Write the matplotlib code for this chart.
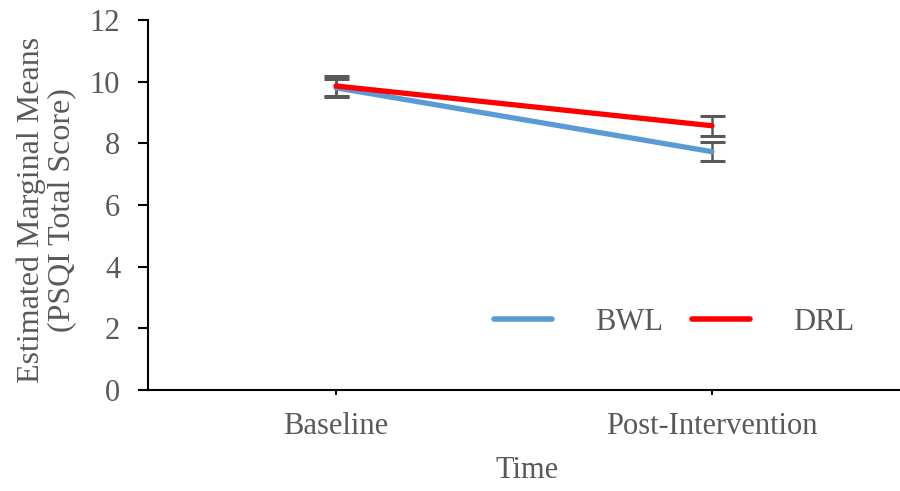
import numpy as np
import matplotlib
matplotlib.use("Agg")
import matplotlib.pyplot as plt

# data
times = ['Baseline', 'Post-Intervention']
bwl_mean = [9.80, 7.73]
bwl_err = [0.30, 0.30]
drl_mean = [9.86, 8.57]
drl_err = [0.32, 0.32]
yticks = [0, 2, 4, 6, 8, 10, 12]

grey = '#595959'
plt.rcParams['font.family'] = ['Liberation Serif', 'DejaVu Serif']

fig = plt.figure(figsize=(9, 4.91), dpi=100)
ax = fig.add_axes([148/900, 1 - 390/491, 1 - 148/900, 370/491])

x = np.arange(len(times))
ax.errorbar(x, bwl_mean, yerr=bwl_err, fmt='none', ecolor=grey, elinewidth=1.8,
            capsize=9, capthick=2.2, zorder=2)
ax.errorbar(x, drl_mean, yerr=drl_err, fmt='none', ecolor=grey, elinewidth=1.8,
            capsize=9, capthick=2.2, zorder=2)
ax.plot(x, bwl_mean, color='#5B9BD5', lw=3.8, solid_capstyle='round', label='BWL', zorder=3)
ax.plot(x, drl_mean, color='#FF0000', lw=3.8, solid_capstyle='round', label='DRL', zorder=4)

ax.set_xlim(-0.5, 1.5)
ax.set_ylim(0, 12)
ax.set_yticks(yticks)
ax.set_xticks(x)
ax.set_xticklabels(times)

for s in ['top', 'right']:
    ax.spines[s].set_visible(False)
for s in ['left', 'bottom']:
    ax.spines[s].set_linewidth(1.5)
    ax.spines[s].set_color('black')

ax.tick_params(axis='y', direction='out', length=7, width=1.5, pad=13,
               labelsize=22, labelcolor=grey)
ax.tick_params(axis='x', direction='out', length=3.5, width=1.5, pad=12,
               labelsize=22, labelcolor=grey)

fig.text(527/900, 1 - 470/491, 'Time', ha='center', va='center', fontsize=22, color=grey)
fig.text(46/900, 1 - 210/491, 'Estimated Marginal Means\n(PSQI Total Score)', rotation=90,
         ha='center', va='center', fontsize=23, color=grey, linespacing=1.05)

leg = ax.legend(loc='center left', bbox_to_anchor=(479/900, 1 - 322/491),
                bbox_transform=fig.transFigure, ncol=2, frameon=False, fontsize=22,
                handlelength=1.9, handletextpad=1.4, columnspacing=0.95, borderpad=0)
for t in leg.get_texts():
    t.set_color(grey)
for h in leg.get_lines():
    h.set_linewidth(4)

fig.savefig('out.png', dpi=100)
